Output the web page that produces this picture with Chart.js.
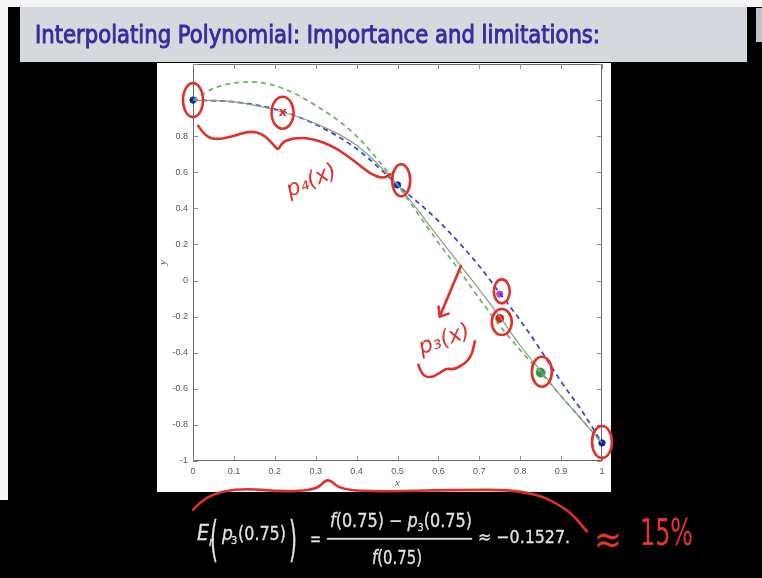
<!DOCTYPE html>
<html><head><meta charset="utf-8">
<script src="https://cdn.jsdelivr.net/npm/chart.js@4.4.1/dist/chart.umd.min.js"></script>
<style>
html,body{margin:0;padding:0;background:#000;width:762px;height:578px;overflow:hidden;}
#stage{position:relative;width:762px;height:578px;}
#bg,#fg,#c{position:absolute;left:0;top:0;}
</style></head><body>
<div id="stage">
<svg id="bg" width="762" height="578">
 <rect x="0" y="0" width="762" height="578" fill="#000"/>
 <rect x="0" y="0" width="762" height="7" fill="#f4f4f4"/>
 <rect x="0" y="0" width="8" height="500" fill="#f4f4f4"/>
 <rect x="20" y="7" width="727" height="55" fill="#d5d8dd"/>
 <rect x="756" y="8" width="6" height="34" fill="#bfc2c6"/>
 <rect x="157" y="63" width="454" height="429" fill="#ffffff"/>
</svg>
<canvas id="c" width="762" height="578"></canvas>
<svg id="fg" width="762" height="578">
 <text x="35" y="43" font-size="25" fill="#3b2a9e" stroke="#3b2a9e" stroke-width="0.9" textLength="565" lengthAdjust="spacingAndGlyphs" font-family="'Liberation Sans Narrow','DejaVu Sans Condensed','Liberation Sans',sans-serif">Interpolating Polynomial: Importance and limitations:</text>
 <g fill="#e0e0e0" stroke="#e0e0e0" stroke-width="0.3" font-family="'Liberation Sans Narrow','DejaVu Sans Condensed','Liberation Sans',sans-serif">
  <text x="197" y="540" font-size="21" font-style="italic">E</text>
  <text x="209" y="546" font-size="12" font-style="italic">r</text>
  <text x="210" y="556" font-size="48" textLength="8" lengthAdjust="spacingAndGlyphs">(</text>
  <text x="222" y="540" font-size="19" font-style="italic">p</text>
  <text x="231" y="544" font-size="11">3</text>
  <text x="238" y="540" font-size="19" textLength="48" lengthAdjust="spacingAndGlyphs">(0.75)</text>
  <text x="289" y="556" font-size="48" textLength="8" lengthAdjust="spacingAndGlyphs">)</text>
  <text x="310" y="545" font-size="20" textLength="11" lengthAdjust="spacingAndGlyphs">=</text>
  <text x="330" y="527" font-size="19" textLength="142" lengthAdjust="spacingAndGlyphs"><tspan font-style="italic">f</tspan>(0.75) − <tspan font-style="italic">p</tspan><tspan font-size="11" dy="4">3</tspan><tspan dy="-4">(0.75)</tspan></text>
  <rect x="327" y="538" width="145" height="1.6"/>
  <text x="372" y="564" font-size="19" textLength="50" lengthAdjust="spacingAndGlyphs"><tspan font-style="italic">f</tspan>(0.75)</text>
  <text x="478" y="543" font-size="18" textLength="92" lengthAdjust="spacingAndGlyphs">≈ −0.1527.</text>
 </g>
 <g fill="#e8342c" font-family="'DejaVu Sans',sans-serif">
  <text x="594" y="553" font-size="40" textLength="28" lengthAdjust="spacingAndGlyphs">≈</text>
  <text x="640" y="545" font-size="37" textLength="53" lengthAdjust="spacingAndGlyphs">15%</text>
 </g>
</svg>
</div>
<script>
// ---- data ----
const xGrid  = [0, 0.1, 0.2, 0.3, 0.4, 0.5, 0.6, 0.7, 0.75, 0.8, 0.85, 0.9, 0.95, 1];
const fVals  = [1.0, 0.99, 0.945, 0.87, 0.75, 0.53, 0.24, -0.05, -0.2, -0.36, -0.5, -0.64, -0.77, -0.9];
const p3Vals = [1.0, 0.99, 0.95, 0.865, 0.73, 0.53, 0.33, 0.08, -0.07, -0.22, -0.385, -0.56, -0.72, -0.9];
const p4Grid = [0, 0.05, 0.1, 0.15, 0.2, 0.25, 0.3, 0.35, 0.4, 0.45, 0.5, 0.55, 0.6, 0.65, 0.7, 0.75, 0.8, 0.85, 0.9, 0.95, 1];
const p4Vals = [1.0, 1.065, 1.095, 1.1, 1.08, 1.035, 0.97, 0.895, 0.8, 0.675, 0.53, 0.37, 0.21, 0.06, -0.1, -0.25, -0.385, -0.51, -0.64, -0.77, -0.9];
const nodeX = [0, 0.5, 1];
const nodeY = [1.0, 0.53, -0.9];
const p4NodeX = [0.85];
const p4NodeY = [-0.51];
const evalX = [0.75];
const p3EvalY = [-0.075];
const fEvalY = [-0.21];
const xTicks = [0, 0.1, 0.2, 0.3, 0.4, 0.5, 0.6, 0.7, 0.8, 0.9, 1];
const xTickLabels = ['0','0.1','0.2','0.3','0.4','0.5','0.6','0.7','0.8','0.9','1'];
const yTicks = [-1, -0.8, -0.6, -0.4, -0.2, 0, 0.2, 0.4, 0.6, 0.8, 1, 1.2];
const yTickLabels = ['-1','-0.8','-0.6','-0.4','-0.2','0','0.2','0.4','0.6','0.8','',''];
// handwritten annotations (data coordinates)
const ringX = [0, 0.219, 0.509, 0.755, 0.755, 0.853, 1.0];
const ringY = [1.0, 0.93, 0.556, -0.06, -0.23, -0.505, -0.895];
const braceP4X = [0.013,0.029,0.058,0.099,0.139,0.172,0.196,0.209,0.217,0.245,0.286,0.343,0.40,0.433,0.465,0.482];
const braceP4Y = [0.857,0.80,0.78,0.80,0.83,0.81,0.755,0.72,0.765,0.79,0.79,0.746,0.654,0.59,0.565,0.59];
const braceP3X = [0.551,0.559,0.579,0.604,0.62,0.636,0.661,0.681,0.689];
const braceP3Y = [-0.467,-0.522,-0.54,-0.513,-0.485,-0.494,-0.467,-0.42,-0.337];
const arrowX = [0.655, 0.603];
const arrowY = [0.08, -0.2];
const underX = [0, 0.03, 0.115, 0.22, 0.303, 0.33, 0.36, 0.465, 0.628, 0.817, 0.914, 0.963];
const underY = [-1.27, -1.19, -1.15, -1.17, -1.16, -1.09, -1.16, -1.17, -1.16, -1.16, -1.26, -1.39];

// ---- styles ----
const RED = '#e0302a';
const ringRx = [10, 11, 9, 8, 10, 10, 10];
const ringRy = [17, 16, 16, 12, 13, 15, 16];

const pts = (xa, ya) => xa.map((x, i) => ({x, y: ya[i]}));

const frame = {
  id: 'frame',
  beforeDatasetsDraw(chart) {
    const {ctx, chartArea: a, scales: {x, y}} = chart;
    ctx.save();
    ctx.strokeStyle = '#6a6a6a'; ctx.lineWidth = 1;
    ctx.strokeRect(a.left + 0.5, a.top + 0.5, a.right - a.left - 1, a.bottom - a.top - 1);
    ctx.strokeStyle = '#8c8c8c';
    const L = 5;
    ctx.beginPath();
    x.ticks.forEach(t => {
      const p = Math.round(x.getPixelForValue(t.value)) + 0.5;
      ctx.moveTo(p, a.bottom); ctx.lineTo(p, a.bottom - L);
      ctx.moveTo(p, a.top); ctx.lineTo(p, a.top + L);
    });
    y.ticks.forEach(t => {
      const p = Math.round(y.getPixelForValue(t.value)) + 0.5;
      ctx.moveTo(a.left, p); ctx.lineTo(a.left + L, p);
      ctx.moveTo(a.right, p); ctx.lineTo(a.right - L, p);
    });
    ctx.stroke();
    ctx.fillStyle = '#555';
    ctx.font = 'italic 11px "Liberation Serif"';
    ctx.textAlign = 'center'; ctx.textBaseline = 'middle';
    ctx.fillText('x', (a.left + a.right) / 2, a.bottom + 22);
    ctx.translate(a.left - 30, (a.top + a.bottom) / 2);
    ctx.rotate(-Math.PI / 2);
    ctx.fillText('y', 0, 0);
    ctx.restore();
  }
};

function smoothPath(ctx, p) {
  ctx.moveTo(p[0][0], p[0][1]);
  for (let i = 1; i < p.length - 1; i++) {
    const mx = (p[i][0] + p[i + 1][0]) / 2, my = (p[i][1] + p[i + 1][1]) / 2;
    ctx.quadraticCurveTo(p[i][0], p[i][1], mx, my);
  }
  ctx.lineTo(p[p.length - 1][0], p[p.length - 1][1]);
}

const ink = {
  id: 'ink',
  afterDatasetsDraw(chart) {
    const {ctx, scales: {x, y}} = chart;
    const P = (xa, ya) => xa.map((v, i) => [x.getPixelForValue(v), y.getPixelForValue(ya[i])]);
    ctx.save();
    ctx.strokeStyle = RED; ctx.fillStyle = RED;
    ctx.lineWidth = 2.6; ctx.lineCap = 'round'; ctx.lineJoin = 'round';
    ringX.forEach((v, i) => {
      ctx.beginPath();
      ctx.ellipse(x.getPixelForValue(v), y.getPixelForValue(ringY[i]), ringRx[i], ringRy[i], 0, 0, Math.PI * 2);
      ctx.stroke();
    });
    [[braceP4X, braceP4Y], [braceP3X, braceP3Y], [underX, underY]].forEach(([xa, ya]) => {
      ctx.beginPath(); smoothPath(ctx, P(xa, ya)); ctx.stroke();
    });
    const ar = P(arrowX, arrowY);
    ctx.beginPath(); ctx.moveTo(ar[0][0], ar[0][1]); ctx.lineTo(ar[1][0], ar[1][1]);
    ctx.moveTo(ar[1][0] - 1, ar[1][1] - 10); ctx.lineTo(ar[1][0], ar[1][1]); ctx.lineTo(ar[1][0] + 9, ar[1][1] - 3);
    ctx.stroke();
    ctx.textAlign = 'center'; ctx.textBaseline = 'middle';
    ctx.font = 'bold 13px "DejaVu Sans"';
    ctx.fillText('x', x.getPixelForValue(ringX[1]), y.getPixelForValue(ringY[1]));
    ctx.font = 'italic 22px "DejaVu Sans"';
    ctx.save();
    ctx.translate(x.getPixelForValue(0.29), y.getPixelForValue(0.55));
    ctx.rotate(-0.42);
    ctx.fillText('p\u2084(x)', 0, 0);
    ctx.restore();
    ctx.save();
    ctx.translate(x.getPixelForValue(0.615), y.getPixelForValue(-0.33));
    ctx.rotate(-0.35);
    ctx.fillText('p\u2083(x)', 0, 0);
    ctx.restore();
    ctx.restore();
  }
};

new Chart(document.getElementById('c'), {
  type: 'line',
  data: {
    datasets: [
      {label: 'f', data: pts(xGrid, fVals), borderColor: '#8c9c88', borderWidth: 1.2, pointRadius: 0, cubicInterpolationMode: 'monotone'},
      {label: 'p3', data: pts(xGrid, p3Vals), borderColor: '#3a4bbd', borderWidth: 1.8, borderDash: [5, 4], pointRadius: 0, cubicInterpolationMode: 'monotone'},
      {label: 'p4', data: pts(p4Grid, p4Vals), borderColor: '#72b466', borderWidth: 1.8, borderDash: [5, 4], pointRadius: 0, cubicInterpolationMode: 'monotone'},
      {label: 'nodes', data: pts(nodeX, nodeY), showLine: false, pointRadius: 3.2, pointBackgroundColor: '#0d2ca8', pointBorderColor: '#0d2ca8', clip: false},
      {label: 'p4 node', data: pts(p4NodeX, p4NodeY), showLine: false, pointRadius: 4.5, pointBackgroundColor: '#2f9a3a', pointBorderColor: '#2f9a3a', clip: false},
      {label: 'p3(0.75)', data: pts(evalX, p3EvalY), showLine: false, pointRadius: 3.2, pointBackgroundColor: '#b848c8', pointBorderColor: '#b848c8', clip: false},
      {label: 'f(0.75)', data: pts(evalX, fEvalY), showLine: false, pointRadius: 4, pointBackgroundColor: '#d82020', pointBorderColor: '#d82020', clip: false}
    ]
  },
  options: {
    responsive: false, animation: false, devicePixelRatio: 1,
    layout: {padding: {top: 64, right: 160, left: 0, bottom: 0}},
    plugins: {legend: {display: false}, tooltip: {enabled: false}},
    scales: {
      x: {
        type: 'linear', min: 0, max: 1,
        grid: {display: false, drawTicks: false}, border: {display: false},
        afterBuildTicks: s => { s.ticks = xTicks.map(v => ({value: v})); },
        afterFit: s => { s.height = 117; },
        ticks: {callback: (v, i) => xTickLabels[i], font: {size: 9, family: 'Liberation Sans'}, color: '#555', padding: 5, maxRotation: 0, autoSkip: false}
      },
      y: {
        type: 'linear', min: -1, max: 1.2,
        grid: {display: false, drawTicks: false}, border: {display: false},
        afterBuildTicks: s => { s.ticks = yTicks.map(v => ({value: v})); },
        afterFit: s => { s.width = 193; },
        ticks: {callback: (v, i) => yTickLabels[i], font: {size: 9, family: 'Liberation Sans'}, color: '#555', padding: 5, autoSkip: false}
      }
    }
  },
  plugins: [frame, ink]
});
</script>
</body></html>
